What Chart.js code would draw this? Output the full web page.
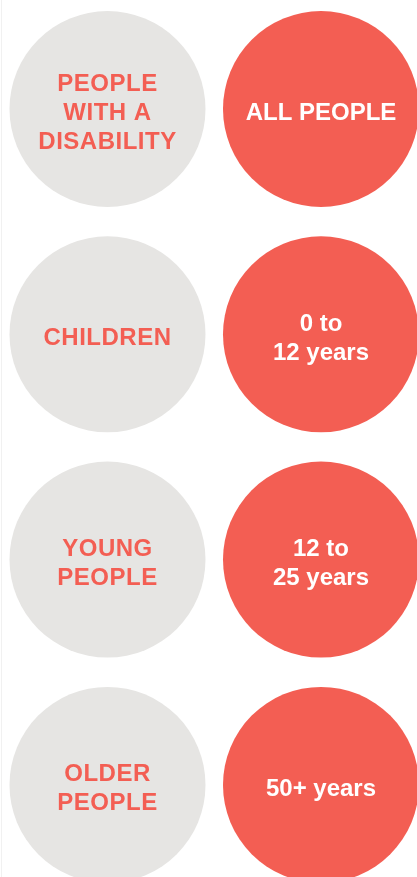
<!DOCTYPE html>
<html>
<head>
<meta charset="utf-8">
<script src="https://cdn.jsdelivr.net/npm/chart.js@4"></script>
<style>
    html, body { margin: 0; padding: 0; background: #fff; }
    #wrap { width: 417px; height: 877px; }
</style>
</head>
<body>
<div id="wrap"><canvas id="chart" width="417" height="877"></canvas></div>
<script>
// one row per group, left circle = who, right circle = age range
const rows = [0, 1, 2, 3];
const groupLabels = [
    ['PEOPLE', 'WITH A', 'DISABILITY'],
    ['CHILDREN'],
    ['YOUNG', 'PEOPLE'],
    ['OLDER', 'PEOPLE']
];
const ageLabels = [
    ['ALL PEOPLE'],
    ['0 to', '12 years'],
    ['12 to', '25 years'],
    ['50+ years']
];

const colors = {
    red: '#F35E53',
    grey: '#E6E5E3',
    white: '#FFFFFF'
};


const circleLabels = {
    id: 'circleLabels',
    beforeDraw(chart) {
        const ctx = chart.ctx;
        ctx.save();
        ctx.fillStyle = '#fff';
        ctx.fillRect(0, 0, chart.width, chart.height);
        ctx.fillStyle = '#f1f1f1';
        ctx.fillRect(1, 0, 1, chart.height);
        ctx.restore();
    },
    afterDatasetsDraw(chart) {
        const ctx = chart.ctx;
        ctx.save();
        ctx.font = 'bold 24px "Liberation Sans", Arial, sans-serif';
        ctx.textAlign = 'center';
        ctx.textBaseline = 'alphabetic';
        chart.data.datasets.forEach((ds, di) => {
            const meta = chart.getDatasetMeta(di);
            ctx.fillStyle = ds.textColor;
            meta.data.forEach((pt, i) => {
                const lines = ds.texts[i];
                lines.forEach((line, j) => {
                    const dy = (j - (lines.length - 1) / 2) * 29;
                    // left labels are a touch wider in the original
                    ctx.letterSpacing = di === 0 ? '0.5px' : '0px';
                    ctx.fillText(line, pt.x, pt.y + dy + 11);
                });
            });
        });
        ctx.restore();
    }
};


new Chart(document.getElementById('chart'), {
    type: 'scatter',
    data: {
        datasets: [
            {
                label: 'Group',
                data: rows.map(r => ({ x: 0, y: r })),
                texts: groupLabels,
                textColor: colors.red,
                backgroundColor: colors.grey,
                borderWidth: 0,
                pointRadius: 98,
                pointHoverRadius: 98
            },
            {
                label: 'Age',
                data: rows.map(r => ({ x: 1, y: r })),
                texts: ageLabels,
                textColor: colors.white,
                backgroundColor: colors.red,
                borderWidth: 0,
                pointRadius: 98,
                pointHoverRadius: 98
            }
        ]
    },
    options: {
        responsive: false,
        animation: false,
        layout: { padding: 0, autoPadding: false },
        clip: false,
        plugins: {
            legend: { display: false },
            tooltip: { enabled: false }
        },
        scales: {
            x: { type: 'linear', display: false, min: -0.5035, max: 1.4497 },
            y: { type: 'linear', display: false, reverse: true, min: -0.4838, max: 3.4088 }
        }
    },
    plugins: [circleLabels]
});
</script>
</body>
</html>
